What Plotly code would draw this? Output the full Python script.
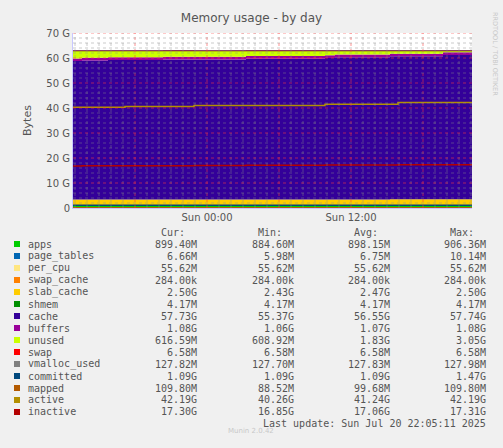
import plotly.graph_objects as go
from datetime import datetime, timedelta

times = ["2025-07-19 12:50", "2025-07-19 13:35", "2025-07-19 15:45", "2025-07-19 17:10",
         "2025-07-19 20:20", "2025-07-19 22:55", "2025-07-20 03:15", "2025-07-20 09:50",
         "2025-07-20 10:40", "2025-07-20 15:15", "2025-07-20 15:55", "2025-07-20 19:40",
         "2025-07-20 22:05"]
n = len(times)

# values in G
apps = [0.90] * n
page_tables = [0.007] * n
per_cpu = [0.056] * n
swap_cache = [0.0003] * n
slab_cache = [2.43, 2.44, 2.45, 2.45, 2.46, 2.46, 2.47, 2.48, 2.48, 2.49, 2.49, 2.50, 2.50]
shmem = [0.004] * n
cache = [55.37, 55.6, 55.8, 55.8, 56.0, 56.0, 56.3, 56.6, 56.9, 57.2, 57.2, 57.73, 57.73]
buffers = [1.06, 1.06, 1.06, 1.07, 1.07, 1.07, 1.07, 1.07, 1.08, 1.08, 1.08, 1.08, 1.08]
unused = [2.98, 2.75, 2.55, 2.54, 2.35, 2.34, 2.04, 1.74, 1.44, 1.14, 1.13, 0.62, 0.62]
swap = [0.0066] * n
vmalloc_used = [0.128] * n
committed = [1.09] * n
mapped = [0.09, 0.09, 0.09, 0.095, 0.095, 0.1, 0.1, 0.1, 0.1, 0.105, 0.105, 0.11, 0.11]
active = [40.26, 40.26, 40.26, 40.6, 40.6, 41.0, 41.0, 41.5, 41.5, 41.5, 42.19, 42.19, 42.19]
inactive = [16.85, 16.9, 16.9, 16.9, 16.95, 17.0, 17.1, 17.2, 17.2, 17.25, 17.3, 17.3, 17.3]

names = ["apps", "page_tables", "per_cpu", "swap_cache", "slab_cache", "shmem", "cache",
         "buffers", "unused", "swap", "vmalloc_used", "committed", "mapped", "active", "inactive"]
colors = ["#00CC00", "#0066B3", "#FFE680", "#FF8000", "#FFCC00", "#008F00", "#330099",
          "#990099", "#CCFF00", "#FF0000", "#808080", "#00487D", "#B35A00", "#B38F00", "#B30000"]
cur = ["899.40M", "6.66M", "55.62M", "284.00k", "2.50G", "4.17M", "57.73G", "1.08G",
       "616.59M", "6.58M", "127.82M", "1.09G", "109.80M", "42.19G", "17.30G"]
mins = ["884.60M", "5.98M", "55.62M", "284.00k", "2.43G", "4.17M", "55.37G", "1.06G",
        "608.92M", "6.58M", "127.70M", "1.09G", "88.52M", "40.26G", "16.85G"]
avgs = ["898.15M", "6.75M", "55.62M", "284.00k", "2.47G", "4.17M", "56.55G", "1.07G",
        "1.83G", "6.58M", "127.83M", "1.09G", "99.68M", "41.24G", "17.06G"]
maxs = ["906.36M", "10.14M", "55.62M", "284.00k", "2.50G", "4.17M", "57.74G", "1.08G",
        "3.05G", "6.58M", "127.98M", "1.47G", "109.80M", "42.19G", "17.31G"]

stacked = [apps, page_tables, per_cpu, swap_cache, slab_cache, shmem, cache, buffers, unused, swap]
lines = [vmalloc_used, committed, mapped, active, inactive]

fig = go.Figure()
for i, s in enumerate(stacked):
    fig.add_trace(go.Scatter(x=times, y=[v * 1e9 for v in s], stackgroup="one",
                             line=dict(width=0, shape="hv", color=colors[i]),
                             fillcolor=colors[i], mode="lines", hoverinfo="skip"))
for j, s in enumerate(lines):
    c = colors[10 + j]
    fig.add_trace(go.Scatter(x=times, y=[v * 1e9 for v in s], mode="lines",
                             line=dict(width=1.5, shape="hv", color=c), hoverinfo="skip"))
# top border line (total)
fig.add_trace(go.Scatter(x=times, y=[62.9e9] * n, mode="lines",
                         line=dict(width=1, color="#660033"), hoverinfo="skip"))

tv = ["2025-07-19 18:00", "2025-07-20 00:00", "2025-07-20 06:00", "2025-07-20 12:00", "2025-07-20 18:00"]
tt = ["", "Sun 00:00", "", "Sun 12:00", ""]

# grid drawn above the areas, like rrdtool
minor_c = "rgba(140,140,140,0.45)"
major_c = "rgba(255,60,60,0.55)"
t0 = datetime(2025, 7, 19, 13, 0)
for h in range(34):
    t = t0 + timedelta(hours=h)
    c = major_c if t.hour % 6 == 0 else minor_c
    fig.add_shape(type="line", xref="x", yref="paper", x0=t, x1=t, y0=0, y1=1,
                  line=dict(color=c, width=1, dash="dot"), layer="above")
for g in range(1, 36):
    c = major_c if g % 5 == 0 else minor_c
    fig.add_shape(type="line", xref="paper", yref="y", x0=0, x1=1, y0=g * 2e9, y1=g * 2e9,
                  line=dict(color=c, width=1, dash="dot"), layer="above")

fnt = "DejaVu Sans"
mono = "DejaVu Sans Mono"
grey = "#555555"
fig.update_layout(
    width=503, height=448, showlegend=False,
    paper_bgcolor="#F0F0F0", plot_bgcolor="#FFFFFF",
    margin=dict(l=73, r=31, t=33, b=240),
    title=dict(text="Memory usage - by day", x=0.5, xanchor="center", y=0.97,
               font=dict(family=fnt, size=12, color=grey)),
    xaxis=dict(range=["2025-07-19 12:50", "2025-07-20 22:05"], tickvals=tv, ticktext=tt,
               showgrid=False, tickfont=dict(family=fnt, size=10, color=grey), ticks="",
               zeroline=False, showline=True, linecolor="#C8C8FF"),
    yaxis=dict(range=[0, 70e9], tickvals=[i * 10e9 for i in range(8)],
               ticktext=["0"] + ["%d G" % (i * 10) for i in range(1, 8)],
               showgrid=False, tickfont=dict(family=fnt, size=10, color=grey), zeroline=False,
               showline=True, linecolor="#C8C8FF",
               title=dict(text="Bytes", font=dict(family=fnt, size=11, color=grey), standoff=12)),
)

def py(p):
    return (208 - p) / 175.0

def px_(p):
    return (p - 73) / 399.0

ann = []
hdr_y = 232
for txt, xr in [("Cur:", 187), ("Min:", 284), ("Avg:", 380), ("Max:", 476)]:
    ann.append(dict(x=px_(xr), y=py(hdr_y), text=txt, xanchor="right"))
for k, nm in enumerate(names):
    yy = 244 + k * 12
    ann.append(dict(x=px_(26), y=py(yy), text=nm, xanchor="left"))
    for val, xr in [(cur[k], 199), (mins[k], 296), (avgs[k], 392), (maxs[k], 488)]:
        ann.append(dict(x=px_(xr), y=py(yy), text=val, xanchor="right"))
    fig.add_shape(type="rect", xref="paper", yref="paper", x0=px_(14), x1=px_(20),
                  y0=py(yy + 3), y1=py(yy - 3), fillcolor=colors[k], line=dict(width=0))
ann.append(dict(x=px_(488), y=py(424), text="Last update: Sun Jul 20 22:05:11 2025", xanchor="right"))
for a in ann:
    a.update(xref="paper", yref="paper", yanchor="middle", showarrow=False,
             font=dict(family=mono, size=10, color=grey))
ann.append(dict(x=px_(251), y=py(437), xref="paper", yref="paper", text="Munin 2.0.42",
                showarrow=False, font=dict(family=fnt, size=7, color="#C8C8C8")))
ann.append(dict(x=px_(495), y=py(54), xref="paper", yref="paper", text="RRDTOOL / TOBI OETIKER",
                yanchor="middle", xanchor="center", showarrow=False, textangle=90,
                font=dict(family=fnt, size=6.5, color="#C8C8C8")))
fig.update_layout(annotations=ann)

fig.write_html("out.html", config={"displayModeBar": False},
               post_script="document.body.style.margin='0';")
